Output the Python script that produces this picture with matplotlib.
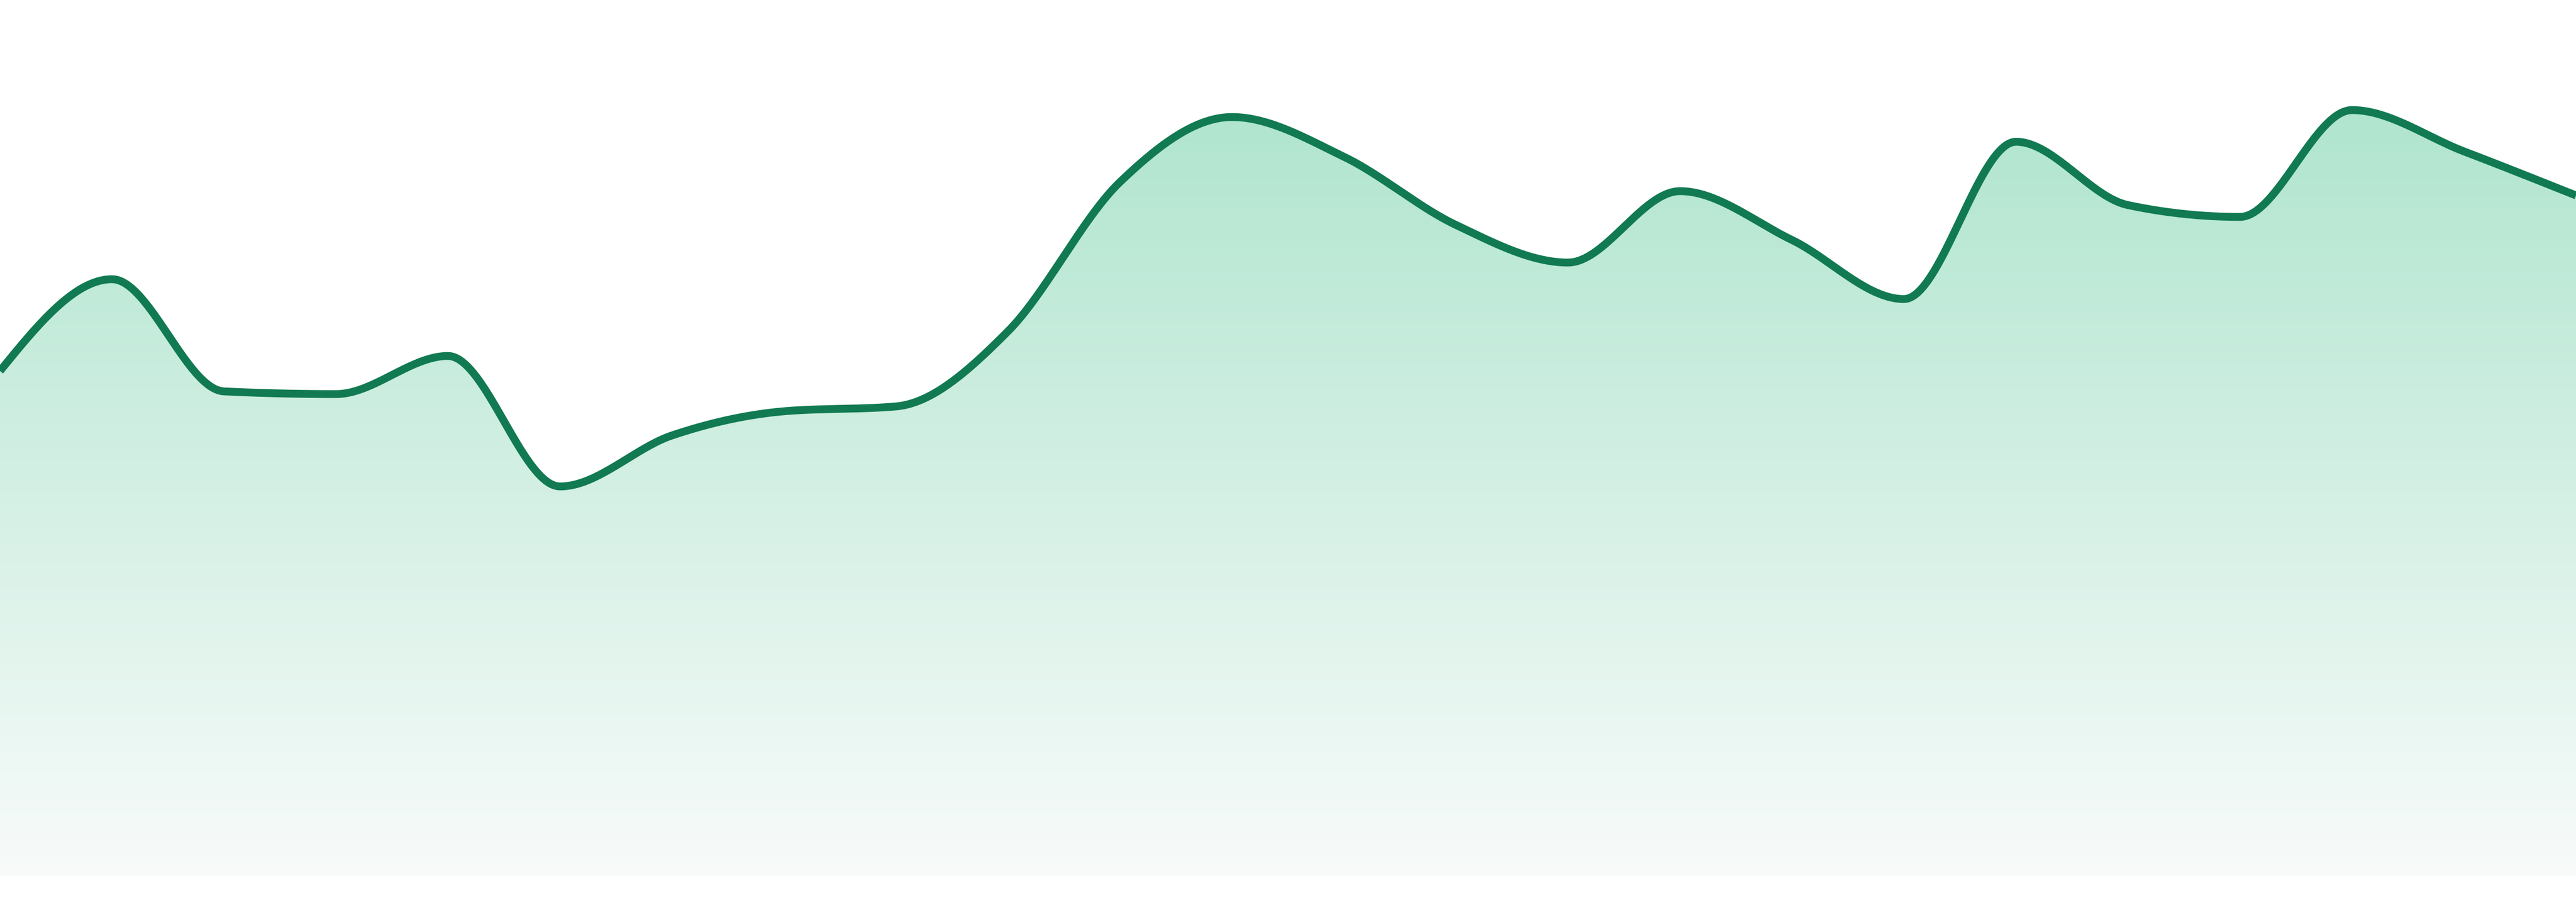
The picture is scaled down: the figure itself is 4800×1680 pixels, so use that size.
import numpy as np
import matplotlib
matplotlib.use('Agg')
import matplotlib.pyplot as plt
from matplotlib.colors import to_rgb

# Waardes (24 punte, gelyk gespasieer)
punte = list(range(24))
waardes = [94.1, 111.2, 90.3, 89.8, 96.9, 72.6, 82.1, 86.6, 87.5, 101.5, 129.3, 141.4,
           134.0, 121.3, 114.3, 127.6, 118.5, 107.5, 136.8, 125.0, 122.8, 142.7, 135.0, 126.8]

lyn_kleur = '#117a52'
bo_kleur = '#b0e5cf'
onder_kleur = '#f8fbfa'


def monotoon(x, y, n=40):
    # monotone kubiese interpolasie (soos d3 curveMonotoneX)
    x = np.asarray(x, float)
    y = np.asarray(y, float)
    h = np.diff(x)
    s = np.diff(y) / h
    t = np.zeros_like(y)
    for i in range(1, len(y) - 1):
        h0, h1 = h[i - 1], h[i]
        s0, s1 = s[i - 1], s[i]
        p = (s0 * h1 + s1 * h0) / (h0 + h1)
        t[i] = (np.sign(s0) + np.sign(s1)) * min(abs(s0), abs(s1), 0.5 * abs(p))
    t[0] = (3 * s[0] - t[1]) / 2
    t[-1] = (3 * s[-1] - t[-2]) / 2
    xs, ys = [], []
    for i in range(len(x) - 1):
        u = np.linspace(0, 1, n, endpoint=(i == len(x) - 2))
        dx = h[i]
        h00 = 2 * u**3 - 3 * u**2 + 1
        h10 = u**3 - 2 * u**2 + u
        h01 = -2 * u**3 + 3 * u**2
        h11 = u**3 - u**2
        xs.append(x[i] + u * dx)
        ys.append(h00 * y[i] + h10 * dx * t[i] + h01 * y[i + 1] + h11 * dx * t[i + 1])
    return np.concatenate(xs), np.concatenate(ys)


xs, ys = monotoon(punte, waardes)

fig = plt.figure(figsize=(16, 5.6), dpi=300)
ax = fig.add_axes([0, 48 / 1680, 1, 1 - 48 / 1680])
ax.axis('off')

# gradient vulsel
bo = ys.max()
rye = 600
f = np.linspace(0, 1, rye)[:, None]
c0 = np.array(to_rgb(bo_kleur))
c1 = np.array(to_rgb(onder_kleur))
beeld = (c0 * (1 - f) + c1 * f)[:, None, :].repeat(2, axis=1)
im = ax.imshow(beeld, extent=[0, 23, 0, bo], origin='upper', aspect='auto',
               interpolation='bilinear', zorder=1)
vul = ax.fill_between(xs, ys, 0, facecolor='none', edgecolor='none')
im.set_clip_path(vul.get_paths()[0], transform=ax.transData)

ax.plot(xs, ys, color=lyn_kleur, lw=3.5, solid_capstyle='butt', zorder=3)

# limiete na imshow, anders oorskryf imshow dit
ax.set_xlim(0, 23)
ax.set_ylim(0, 163.2)

fig.savefig('out.png', dpi=300, facecolor='white')
